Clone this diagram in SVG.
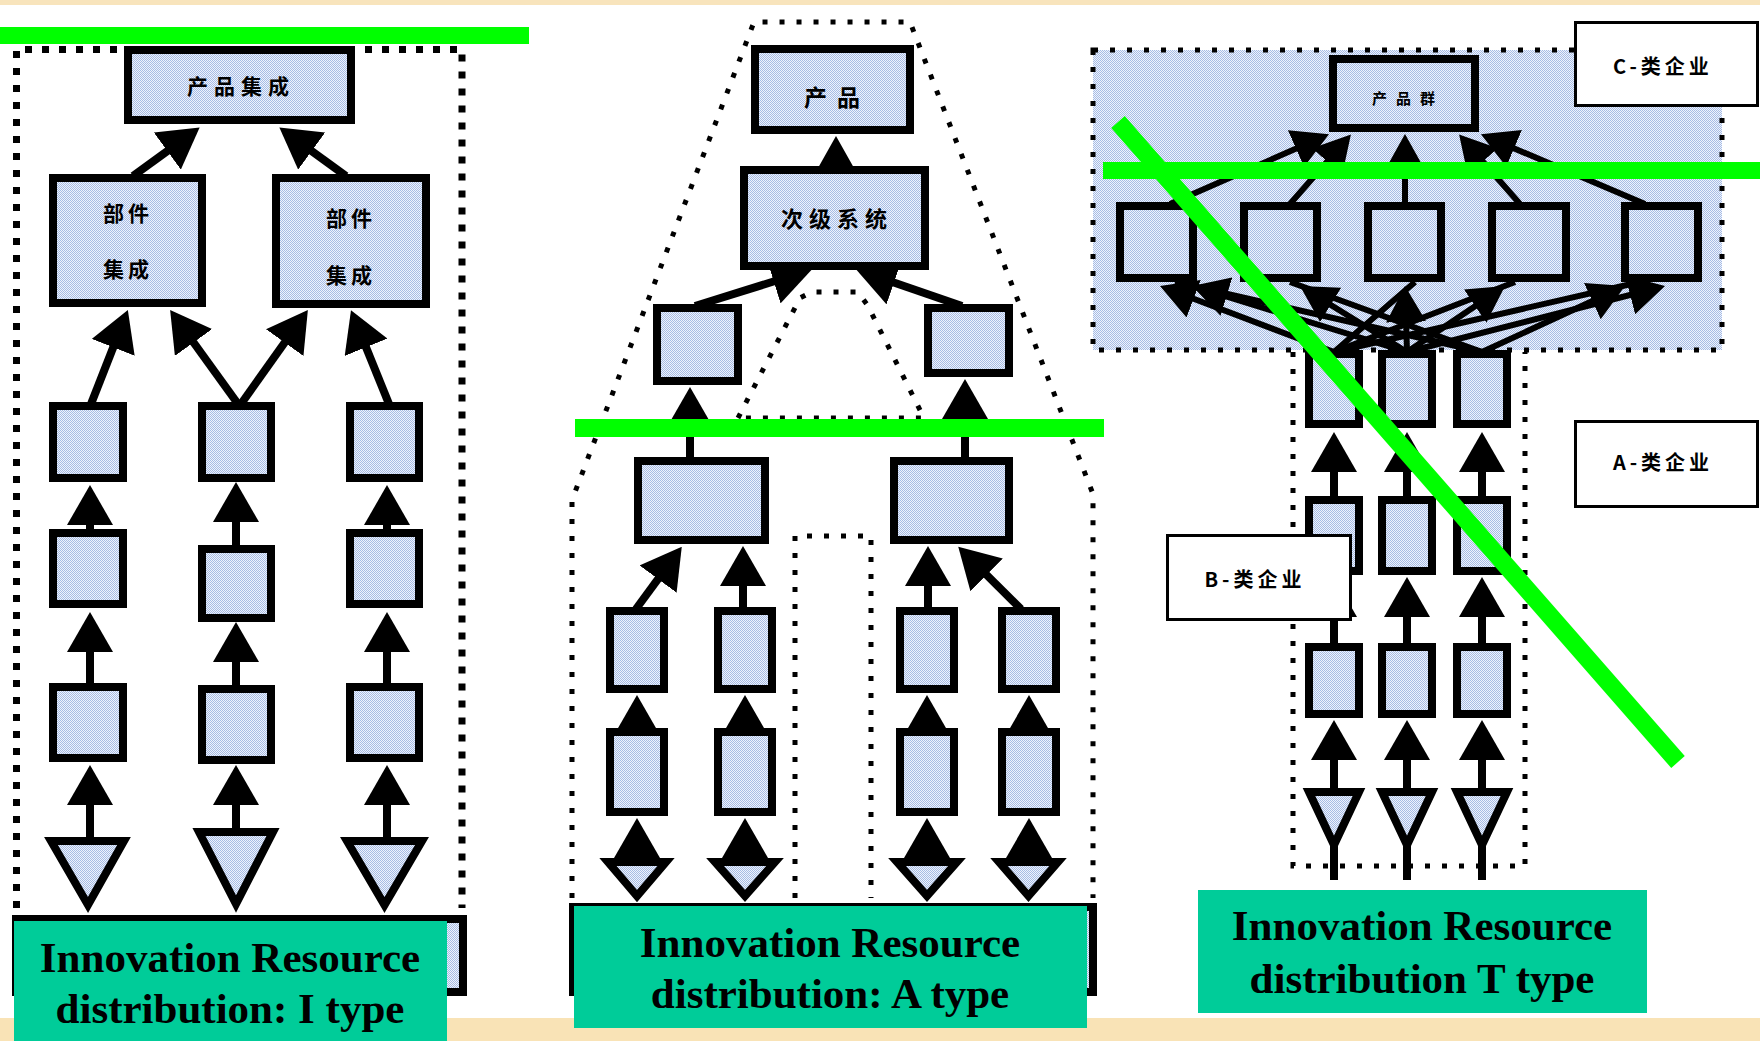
<svg xmlns="http://www.w3.org/2000/svg" width="1760" height="1041" viewBox="0 0 1760 1041">
<defs>
<pattern id="chk" width="2" height="2" patternUnits="userSpaceOnUse">
<rect width="2" height="2" fill="#EEF3FD"/>
<rect width="1" height="1" fill="#A7BCE4"/>
<rect x="1" y="1" width="1" height="1" fill="#A7BCE4"/>
</pattern>
<marker id="ah" viewBox="0 0 40 46" markerWidth="40" markerHeight="46" refX="24" refY="23" orient="auto" markerUnits="userSpaceOnUse"><path d="M0,0 L40,23 L0,46 z" fill="#000"/></marker>
<marker id="ahs" viewBox="0 0 32 36" markerWidth="32" markerHeight="36" refX="19" refY="18" orient="auto" markerUnits="userSpaceOnUse"><path d="M0,0 L32,18 L0,36 z" fill="#000"/></marker>
<marker id="aht" viewBox="0 0 36 40" markerWidth="36" markerHeight="40" refX="24" refY="20" orient="auto" markerUnits="userSpaceOnUse"><path d="M0,0 L36,20 L0,40 z" fill="#000"/></marker>
<style>
.n{fill:url(#chk);stroke:#000;stroke-width:8}
.c{stroke:#000;stroke-width:8;fill:none}
.ct{stroke:#000;stroke-width:6;fill:none}
.a{marker-end:url(#ah)}
.as{marker-end:url(#ahs)}
.at{marker-end:url(#aht)}
.dotI{fill:none;stroke:#000;stroke-width:7;stroke-dasharray:7 10}
.dotA{fill:none;stroke:#000;stroke-width:5;stroke-dasharray:5 12}
.cjk{font-family:"Noto Sans CJK SC","Noto Sans CJK TC",sans-serif;font-weight:bold;fill:#000;text-anchor:middle}
.cap{font-family:"Liberation Serif","Times New Roman",serif;font-weight:bold;font-size:43px;text-anchor:middle;fill:#000}
.gl{fill:#00FF00}
.cbox{fill:#00CC99}
.lbl{fill:#fff;stroke:#000;stroke-width:3}
</style>
</defs>
<rect width="1760" height="1041" fill="#FFFFFF"/>
<rect width="1760" height="5" fill="#F8E4BC"/>
<rect y="1018" width="1760" height="23" fill="#F9E3B6"/>

<g id="outlines">
<path class="dotI" d="M16.5,908 V49.5 H462 V908"/>
<path class="dotA" d="M572,898 V500 L754,22 H910 L1093,494 V898"/>
<path class="dotA" d="M738,418 L800,298 L812,292 H858 L868,306 L924,418 Z"/>
<path class="dotA" d="M795,898 V536 H871 V898"/>
<rect id="c-region" x="1093" y="50" width="629" height="300" fill="url(#chk)" stroke="#000" stroke-width="5" stroke-dasharray="5 12"/>
<path class="dotA" d="M1293,352 V866 H1525 V352"/>
</g>

<g id="connectors">
<line class="c a" x1="90" y1="841" x2="90" y2="781"/>
<line class="c a" x1="236" y1="832" x2="236" y2="781"/>
<line class="c a" x1="387" y1="841" x2="387" y2="781"/>
<line class="c a" x1="90" y1="685" x2="90" y2="628"/>
<line class="c a" x1="236" y1="687" x2="236" y2="638"/>
<line class="c a" x1="387" y1="685" x2="387" y2="628"/>
<line class="c a" x1="90" y1="531" x2="90" y2="501"/>
<line class="c a" x1="236" y1="547" x2="236" y2="498"/>
<line class="c a" x1="387" y1="531" x2="387" y2="501"/>
<line class="c a" x1="91" y1="404" x2="122" y2="325"/>
<line class="c a" x1="238" y1="404" x2="179.5" y2="323"/>
<line class="c a" x1="241" y1="404" x2="298.6" y2="323"/>
<line class="c a" x1="389" y1="404" x2="357" y2="325"/>
<line class="c a" x1="133" y1="176" x2="186.7" y2="136.9"/>
<line class="c a" x1="346" y1="176" x2="292.3" y2="136.9"/>
<line class="c as" x1="836" y1="170" x2="836" y2="149"/>
<line class="c a" x1="695" y1="306" x2="796.6" y2="274.3"/>
<line class="c a" x1="962" y1="306" x2="871.3" y2="274.8"/>
<line class="c a" x1="690" y1="460" x2="690" y2="403"/>
<line class="c a" x1="965" y1="460" x2="965" y2="395"/>
<line class="c a" x1="636" y1="609" x2="672.3" y2="559.7"/>
<line class="c a" x1="743" y1="609" x2="743" y2="562"/>
<line class="c a" x1="928" y1="609" x2="928" y2="562"/>
<line class="c a" x1="1021" y1="609" x2="969.6" y2="558"/>
<line class="c a" x1="637" y1="730" x2="637" y2="711"/>
<line class="c a" x1="745" y1="730" x2="745" y2="711"/>
<line class="c a" x1="927" y1="730" x2="927" y2="711"/>
<line class="c a" x1="1029" y1="730" x2="1029" y2="711"/>
<line class="c a" x1="637" y1="861" x2="637" y2="834"/>
<line class="c a" x1="745" y1="861" x2="745" y2="834"/>
<line class="c a" x1="927" y1="861" x2="927" y2="834"/>
<line class="c a" x1="1029" y1="861" x2="1029" y2="834"/>
<line class="ct at" x1="1170" y1="204" x2="1318" y2="139"/>
<line class="ct at" x1="1290" y1="204" x2="1343" y2="143.5"/>
<line class="ct at" x1="1405" y1="204" x2="1405" y2="146"/>
<line class="ct at" x1="1520" y1="204" x2="1467" y2="143.5"/>
<line class="ct at" x1="1645" y1="204" x2="1492" y2="139"/>
<line class="ct" x1="1482" y1="352" x2="1175" y2="282"/>
<line class="ct" x1="1334" y1="352" x2="1515" y2="282"/>
<line class="ct" x1="1482" y1="352" x2="1290" y2="282"/>
<line class="ct" x1="1334" y1="352" x2="1640" y2="282"/>
<line class="ct" x1="1334" y1="352" x2="1415" y2="282"/>
<line class="ct at" x1="1334" y1="352" x2="1171.2" y2="290.3"/>
<line class="ct at" x1="1407" y1="352" x2="1203.5" y2="289.5"/>
<line class="ct at" x1="1407" y1="352" x2="1310.2" y2="292.3"/>
<line class="ct at" x1="1407" y1="352" x2="1405.4" y2="298"/>
<line class="ct at" x1="1407" y1="352" x2="1495.1" y2="292.7"/>
<line class="ct at" x1="1482" y1="352" x2="1614.1" y2="291"/>
<line class="ct at" x1="1407" y1="352" x2="1653.4" y2="289"/>
<line class="c a" x1="1334" y1="498" x2="1334" y2="448"/>
<line class="c a" x1="1407" y1="498" x2="1407" y2="448"/>
<line class="c a" x1="1482" y1="498" x2="1482" y2="448"/>
<line class="c a" x1="1334" y1="645" x2="1334" y2="593"/>
<line class="c a" x1="1407" y1="645" x2="1407" y2="593"/>
<line class="c a" x1="1482" y1="645" x2="1482" y2="593"/>
<line class="c a" x1="1334" y1="880" x2="1334" y2="736"/>
<line class="c a" x1="1407" y1="880" x2="1407" y2="736"/>
<line class="c a" x1="1482" y1="880" x2="1482" y2="736"/>
</g>

<g id="i-top"><rect class="n" x="128" y="50" width="223" height="70"/><text class="cjk" x="241" y="94" font-size="21" letter-spacing="6">产品集成</text></g>
<g id="i-sub-left"><rect class="n" x="53" y="178" width="149" height="125"/><text class="cjk" x="128" y="221" font-size="21" letter-spacing="4">部件</text><text class="cjk" x="128" y="277" font-size="21" letter-spacing="4">集成</text></g>
<g id="i-sub-right"><rect class="n" x="276" y="178" width="150" height="126"/><text class="cjk" x="351" y="226" font-size="21" letter-spacing="4">部件</text><text class="cjk" x="351" y="283" font-size="21" letter-spacing="4">集成</text></g>
<g id="i-c1r1"><rect class="n" x="53" y="406" width="70" height="72"/></g>
<g id="i-c2r1"><rect class="n" x="202" y="406" width="69" height="72"/></g>
<g id="i-c3r1"><rect class="n" x="350" y="406" width="69" height="72"/></g>
<g id="i-c1r2"><rect class="n" x="53" y="533" width="70" height="71"/></g>
<g id="i-c2r2"><rect class="n" x="202" y="549" width="69" height="69"/></g>
<g id="i-c3r2"><rect class="n" x="350" y="533" width="69" height="71"/></g>
<g id="i-c1r3"><rect class="n" x="53" y="687" width="70" height="71"/></g>
<g id="i-c2r3"><rect class="n" x="202" y="689" width="69" height="71"/></g>
<g id="i-c3r3"><rect class="n" x="350" y="687" width="69" height="71"/></g>
<g id="i-t1"><polygon class="n" points="51,841 124,841 88,905"/></g>
<g id="i-t2"><polygon class="n" points="199,832 273,832 236,904"/></g>
<g id="i-t3"><polygon class="n" points="347,841 422,841 384.5,905"/></g>

<g id="a-top"><rect class="n" x="755" y="49" width="155" height="81"/><text class="cjk" x="837" y="106" font-size="23" letter-spacing="10">产品</text></g>
<g id="a-sub"><rect class="n" x="744" y="170" width="181" height="96"/><text class="cjk" x="837" y="227" font-size="22" letter-spacing="6">次级系统</text></g>
<g id="a-l2a"><rect class="n" x="657" y="308" width="81" height="73"/></g>
<g id="a-l2b"><rect class="n" x="928" y="308" width="81" height="65"/></g>
<g id="a-l3a"><rect class="n" x="638" y="461" width="127" height="79"/></g>
<g id="a-l3b"><rect class="n" x="894" y="461" width="115" height="79"/></g>
<g id="a-r4a"><rect class="n" x="610" y="611" width="54" height="78"/></g>
<g id="a-r4b"><rect class="n" x="718" y="611" width="54" height="78"/></g>
<g id="a-r4c"><rect class="n" x="900" y="611" width="54" height="78"/></g>
<g id="a-r4d"><rect class="n" x="1002" y="611" width="54" height="78"/></g>
<g id="a-r5a"><rect class="n" x="610" y="732" width="54" height="80"/></g>
<g id="a-r5b"><rect class="n" x="718" y="732" width="54" height="80"/></g>
<g id="a-r5c"><rect class="n" x="900" y="732" width="54" height="80"/></g>
<g id="a-r5d"><rect class="n" x="1002" y="732" width="54" height="80"/></g>
<g id="a-t1"><polygon class="n" points="608,862 666,862 637,896"/></g>
<g id="a-t2"><polygon class="n" points="715,862 775,862 745,896"/></g>
<g id="a-t3"><polygon class="n" points="897,862 957,862 927,896"/></g>
<g id="a-t4"><polygon class="n" points="999,862 1058,862 1028.5,896"/></g>

<g id="t-top"><rect class="n" x="1333" y="59" width="142" height="69"/><text class="cjk" x="1408" y="104" font-size="15" letter-spacing="9">产品群</text></g>
<g id="t-c1"><rect class="n" x="1120" y="206" width="73" height="72"/></g>
<g id="t-c2"><rect class="n" x="1244" y="206" width="73" height="72"/></g>
<g id="t-c3"><rect class="n" x="1368" y="206" width="73" height="72"/></g>
<g id="t-c4"><rect class="n" x="1492" y="206" width="74" height="72"/></g>
<g id="t-c5"><rect class="n" x="1625" y="206" width="73" height="72"/></g>
<g id="t-b1r1"><rect class="n" x="1309" y="354" width="50" height="70"/></g>
<g id="t-b2r1"><rect class="n" x="1382" y="354" width="50" height="70"/></g>
<g id="t-b3r1"><rect class="n" x="1457" y="354" width="50" height="70"/></g>
<g id="t-b1r2"><rect class="n" x="1309" y="500" width="50" height="71"/></g>
<g id="t-b2r2"><rect class="n" x="1382" y="500" width="50" height="71"/></g>
<g id="t-b3r2"><rect class="n" x="1457" y="500" width="50" height="71"/></g>
<g id="t-b1r3"><rect class="n" x="1309" y="647" width="50" height="67"/></g>
<g id="t-b2r3"><rect class="n" x="1382" y="647" width="50" height="67"/></g>
<g id="t-b3r3"><rect class="n" x="1457" y="647" width="50" height="67"/></g>
<g id="t-t1"><polygon class="n" points="1309,792 1359,792 1334,845"/></g>
<g id="t-t2"><polygon class="n" points="1382,792 1432,792 1407,845"/></g>
<g id="t-t3"><polygon class="n" points="1457,792 1507,792 1482,845"/></g>

<g id="label-c"><rect class="lbl" x="1575.5" y="22.5" width="182" height="83"/><text class="cjk" x="1663" y="74" font-size="20" letter-spacing="4">C-类企业</text></g>
<g id="label-a"><rect class="lbl" x="1575.5" y="421.5" width="182" height="85"/><text class="cjk" x="1663" y="470" font-size="20" letter-spacing="4">A-类企业</text></g>
<g id="label-b"><rect class="lbl" x="1167.5" y="535.5" width="183" height="84"/><text class="cjk" x="1255" y="587" font-size="20" letter-spacing="4">B-类企业</text></g>

<g id="cap-i">
<rect x="16" y="919" width="447" height="73" fill="url(#chk)" stroke="#000" stroke-width="8"/>
<rect class="cbox" x="14" y="921" width="433" height="120"/>
<text class="cap" x="230" y="972">Innovation Resource</text>
<text class="cap" x="230" y="1023">distribution: I type</text>
</g>
<g id="cap-a">
<rect x="573" y="907" width="520" height="85" fill="url(#chk)" stroke="#000" stroke-width="8"/>
<rect class="cbox" x="574" y="906" width="513" height="122"/>
<text class="cap" x="830" y="957">Innovation Resource</text>
<text class="cap" x="830" y="1008">distribution: A type</text>
</g>
<g id="cap-t">
<rect class="cbox" x="1198" y="890" width="449" height="123"/>
<text class="cap" x="1422" y="940">Innovation Resource</text>
<text class="cap" x="1422" y="993">distribution T type</text>
</g>

<g id="green-lines">
<rect class="gl" x="0" y="27" width="529" height="17"/>
<rect class="gl" x="575" y="419" width="529" height="18"/>
<rect class="gl" x="1103" y="162" width="657" height="17"/>
<line x1="1118" y1="122" x2="1678" y2="762" stroke="#00FF00" stroke-width="18"/>
</g>
</svg>
